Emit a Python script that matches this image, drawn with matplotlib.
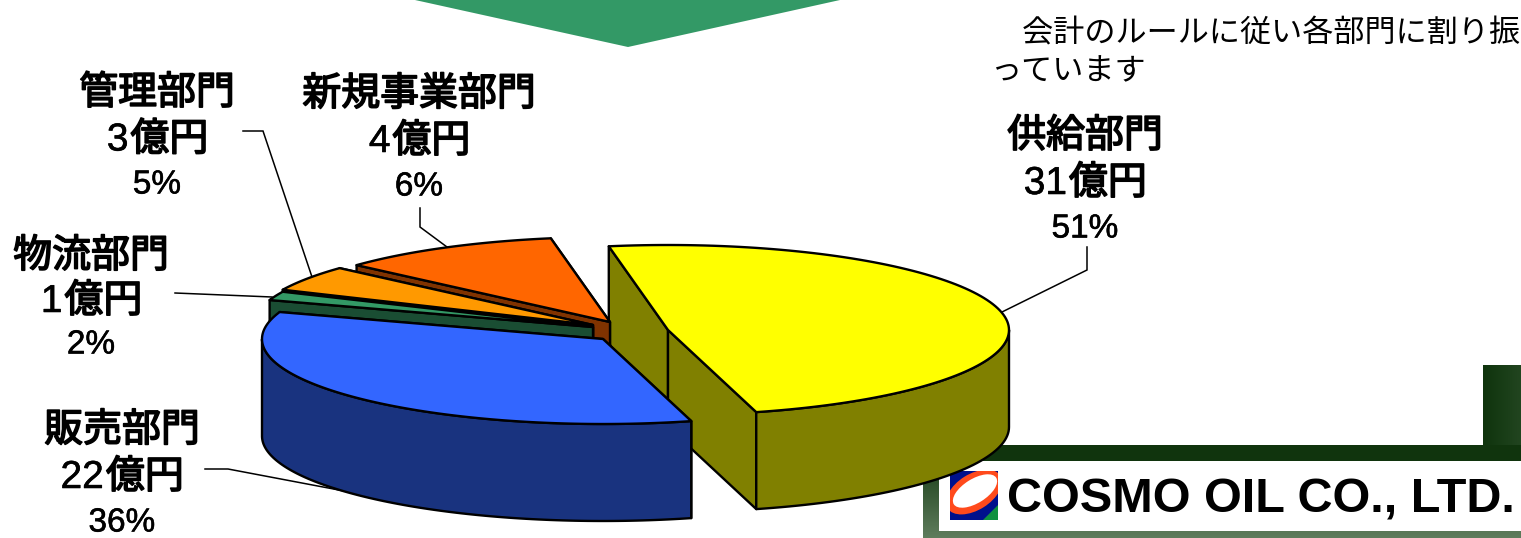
import numpy as np
import matplotlib
matplotlib.use('Agg')
import matplotlib.pyplot as plt
from matplotlib.patches import Polygon, Rectangle, Ellipse
import matplotlib.patheffects as pe

plt.rcParams['font.family'] = ['Liberation Sans', 'Noto Sans CJK JP', 'DejaVu Sans']

# Data
categories = ['供給部門', '販売部門', '物流部門', '管理部門', '新規事業部門']
amounts = [31, 22, 1, 3, 4]  # 億円
percents = [51, 36, 2, 5, 6]
# the 3D pie does not draw its slices in true proportion, these are the angles as drawn
drawn_angles = [175, 123.5, 6, 17.5, 38]

note_lines = ['\u3000会計のルールに従い各部門に割り振', 'っています']
company = 'COSMO OIL CO., LTD.'

# Styles and positions (pixels of the picture)
top_colors = ['#FFFF00', '#3366FF', '#339966', '#FF9900', '#FF6600']
side_colors = ['#808000', '#19337F', '#1A4D33', '#804D00', '#803300']
apexes = [(668, 330), (603, 339), (593, 327), (593, 325), (610, 322)]
label_pos = [(1085, 137), (122, 431), (91, 257), (157, 94), (419, 95)]
label_step = [47, 47, 45, 46.5, 47]
leaders = [
    [(1087, 247), (1087, 270), (1002, 312)],
    [(205, 469), (228, 469), (360, 494)],
    [(175, 293), (272, 297)],
    [(243, 131), (263, 131), (312, 277)],
    [(420, 208), (420, 227), (447, 247)],
]
start_angle = 100
rx, ry = 341, 85
depth = 97
draw_order = [0, 4, 3, 2, 1]

fig = plt.figure(figsize=(15.21, 5.38), dpi=100)
ax = fig.add_axes([0, 0, 1, 1])

# Frame behind the logo, with its gradients
dark = np.array([15, 52, 13]) / 255
light = np.array([94, 124, 92]) / 255
ramp = np.linspace(0, 1, 64)[:, None]
ax.imshow((dark + (light - dark) * ramp)[:, None, :], extent=(923, 1521, 538, 445), aspect='auto', zorder=1)
ax.imshow((dark + (light - dark) * ramp)[None, :, :], extent=(1483, 1640, 461, 365), aspect='auto', zorder=1)
ax.add_patch(Rectangle((923, 445), 598, 16, color='#10340D', lw=0, zorder=1.5))
ax.add_patch(Rectangle((939, 461), 582, 70, color='white', lw=0, zorder=2))

# Logo
clip_box = Rectangle((950, 471), 48, 49, transform=ax.transData)
ax.add_patch(Rectangle((950, 471), 48, 49, color='#00108C', lw=0, zorder=3))
corner = Polygon([(998, 505), (998, 520), (983, 520)], color='#109040', lw=0, zorder=3.1)
ax.add_patch(corner)
ring = Ellipse((974, 492), 62, 36, angle=-32, color='#FF4A1C', lw=0, zorder=3.2)
hole = Ellipse((975, 491), 50, 24, angle=-32, color='white', lw=0, zorder=3.3)
ax.add_patch(ring)
ax.add_patch(hole)
ring.set_clip_path(clip_box)
hole.set_clip_path(clip_box)
ax.text(1007, 500, company, family='Liberation Sans', weight='bold', fontsize=35,
        va='center', ha='left', color='black', zorder=3)

# Arrow at the top
ax.add_patch(Polygon([(415, 0), (628, 47), (840, 0)], color='#339966', lw=0, zorder=1))


def ellipse_point(apex, deg):
    t = np.radians(deg)
    return apex[0] + rx * np.cos(t), apex[1] - ry * np.sin(t)


def draw_slice(apex, a0, a1, top, side, z):
    # a0 > a1, the slice runs clockwise
    ts = np.linspace(a0, a1, 120)
    xs, ys = ellipse_point(apex, ts)
    style = dict(edgecolor='black', linewidth=1.7, joinstyle='round', zorder=z)
    # cut faces, the one further back first
    ends = sorted([(ys[0], xs[0]), (ys[-1], xs[-1])])
    for y, x in ends:
        ax.add_patch(Polygon([apex, (x, y), (x, y + depth), (apex[0], apex[1] + depth)],
                             facecolor=side, **style))
    # outer wall, only the part that faces the viewer
    front = ts[np.sin(np.radians(ts)) <= 0]
    if len(front) > 1:
        fx, fy = ellipse_point(apex, front)
        wall = np.r_[np.c_[fx, fy], np.c_[fx, fy + depth][::-1]]
        ax.add_patch(Polygon(wall, facecolor=side, **style))
    ax.add_patch(Polygon(np.r_[[apex], np.c_[xs, ys]], facecolor=top, **style))


bounds = start_angle - np.r_[0, np.cumsum(drawn_angles)]
for n, i in enumerate(draw_order):
    draw_slice(apexes[i], bounds[i], bounds[i + 1], top_colors[i], side_colors[i], 5 + n)

# Leader lines
for pts in leaders:
    px, py = zip(*pts)
    ax.plot(px, py, color='black', lw=1.1, zorder=4, solid_joinstyle='miter')

# Labels, kanji heavier than the digits
heavy = [pe.withStroke(linewidth=1.2, foreground='black')]
medium = [pe.withStroke(linewidth=0.4, foreground='black')]
for i, cat in enumerate(categories):
    x, y = label_pos[i]
    ax.text(x, y, cat, fontsize=28, ha='center', va='center', color='black',
            path_effects=heavy, zorder=20)
    # digit about 21 px, kanji about 39 px
    digits = str(amounts[i])
    split = x + (21 * len(digits) - 78) / 2
    ax.text(split, y + label_step[i], digits, fontsize=28, ha='right', va='center',
            color='black', path_effects=medium, zorder=20)
    ax.text(split + 2, y + label_step[i], '億円', fontsize=28, ha='left', va='center',
            color='black', path_effects=heavy, zorder=20)
    ax.text(x, y + 2 * label_step[i] - 2, f'{percents[i]}%', fontsize=24, ha='center', va='center',
            color='black', path_effects=medium, zorder=20)

# Note
ax.text(991, 34, note_lines[0], fontsize=22.4, ha='left', va='center', color='black', zorder=20)
ax.text(991, 72, note_lines[1], fontsize=22.4, ha='left', va='center', color='black', zorder=20)

ax.set_xlim(0, 1521)
ax.set_ylim(538, 0)
ax.axis('off')
fig.savefig('out.png', dpi=100, facecolor='white')
